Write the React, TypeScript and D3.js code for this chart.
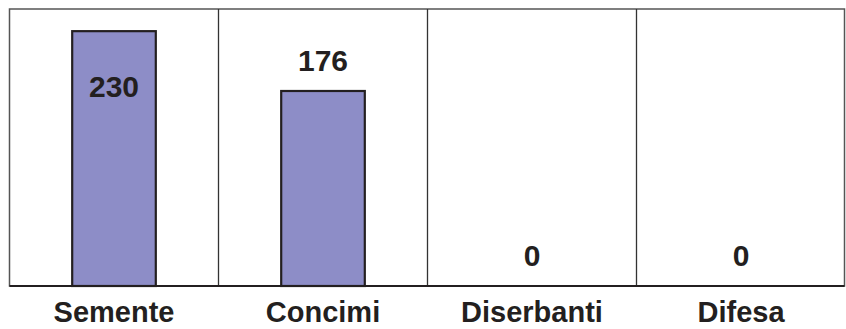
import React from "react";
import * as d3 from "d3";

const categories: string[] = ["Semente", "Concimi", "Diserbanti", "Difesa"];
const values: number[] = [230, 176, 0, 0];
const yMax = 250;

const W = 846;
const H = 329;
const margin = { top: 9, right: 0.5, bottom: 43, left: 9.5 };

export default function App() {
  const x = d3
    .scaleBand<string>()
    .domain(categories)
    .range([margin.left, W - margin.right])
    .paddingInner(0)
    .paddingOuter(0);
  const y = d3.scaleLinear().domain([0, yMax]).range([H - margin.bottom, margin.top]);
  const barW = x.bandwidth() * 0.4;
  const font = "'Liberation Sans', Arial, Helvetica, sans-serif";
  const textColor = "#231f20";
  const fontSize = 30;

  return (
    <svg
      width={W}
      height={H}
      style={{ position: "absolute", left: 0, top: 0, background: "#fff" }}
    >
      <rect
        x={margin.left}
        y={margin.top}
        width={W - margin.left - margin.right - 1}
        height={H - margin.top - margin.bottom}
        fill="#fff"
        stroke="#555"
        strokeWidth={1.5}
      />
      {categories.slice(1).map((c) => (
        <line
          key={c}
          x1={x(c)!}
          x2={x(c)!}
          y1={margin.top}
          y2={H - margin.bottom}
          stroke="#333"
          strokeWidth={1.3}
        />
      ))}
      {values.map((v, i) => {
        const c = categories[i];
        const cx = x(c)! + x.bandwidth() / 2;
        if (v <= 0) return null;
        return (
          <rect
            key={c}
            x={cx - barW / 2}
            y={y(v)}
            width={barW}
            height={y(0) - y(v)}
            fill="#8d8dc7"
            stroke="#231f20"
            strokeWidth={2.2}
          />
        );
      })}
      <line
        x1={margin.left}
        x2={W - margin.right - 1}
        y1={y(0)}
        y2={y(0)}
        stroke="#231f20"
        strokeWidth={1.8}
      />
      {values.map((v, i) => {
        const c = categories[i];
        const cx = x(c)! + x.bandwidth() / 2;
        const outside = y(v) - 20;
        const fits = outside - fontSize * 0.72 > margin.top;
        const ly = fits ? outside : y(v) + 66;
        return (
          <text
            key={c}
            x={cx}
            y={ly}
            textAnchor="middle"
            fontFamily={font}
            fontWeight="bold"
            fontSize={fontSize}
            fill={textColor}
          >
            {v}
          </text>
        );
      })}
      {categories.map((c) => (
        <text
          key={c}
          x={x(c)! + x.bandwidth() / 2}
          y={H - 7}
          textAnchor="middle"
          fontFamily={font}
          fontWeight="bold"
          fontSize={29}
          fill={textColor}
        >
          {c}
        </text>
      ))}
    </svg>
  );
}
